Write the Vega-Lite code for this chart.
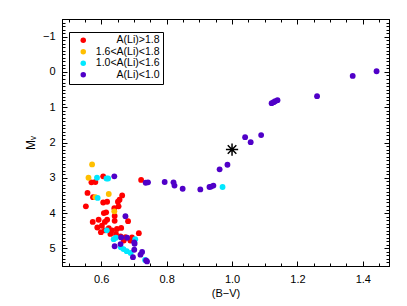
{
  "$schema": "https://vega.github.io/schema/vega-lite/v6.json",
  "width": 327,
  "height": 247,
  "autosize": {"type": "none"},
  "padding": {"left": 62, "top": 19, "right": 18, "bottom": 40},
  "background": "white",
  "config": {
    "view": {"stroke": "black", "strokeWidth": 1},
    "font": "Liberation Sans",
    "axis": {"domainColor": "black", "tickColor": "black", "labelColor": "black", "titleColor": "black", "labelFont": "Liberation Sans", "titleFont": "Liberation Sans", "labelFontSize": 11, "titleFontSize": 11, "titleFontWeight": "normal", "grid": false}
  },
  "datasets": {
    "stars": [
      {"b": 0.606, "m": 2.96, "g": "A(Li)>1.8"},
      {"b": 0.582, "m": 3.12, "g": "A(Li)>1.8"},
      {"b": 0.570, "m": 3.13, "g": "A(Li)>1.8"},
      {"b": 0.722, "m": 3.06, "g": "A(Li)>1.8"},
      {"b": 0.558, "m": 3.43, "g": "A(Li)>1.8"},
      {"b": 0.575, "m": 3.55, "g": "A(Li)>1.8"},
      {"b": 0.553, "m": 3.81, "g": "A(Li)>1.8"},
      {"b": 0.664, "m": 3.50, "g": "A(Li)>1.8"},
      {"b": 0.656, "m": 3.62, "g": "A(Li)>1.8"},
      {"b": 0.651, "m": 3.68, "g": "A(Li)>1.8"},
      {"b": 0.606, "m": 3.70, "g": "A(Li)>1.8"},
      {"b": 0.618, "m": 3.68, "g": "A(Li)>1.8"},
      {"b": 0.640, "m": 3.86, "g": "A(Li)>1.8"},
      {"b": 0.608, "m": 4.00, "g": "A(Li)>1.8"},
      {"b": 0.615, "m": 3.98, "g": "A(Li)>1.8"},
      {"b": 0.641, "m": 4.08, "g": "A(Li)>1.8"},
      {"b": 0.592, "m": 4.19, "g": "A(Li)>1.8"},
      {"b": 0.574, "m": 4.25, "g": "A(Li)>1.8"},
      {"b": 0.611, "m": 4.25, "g": "A(Li)>1.8"},
      {"b": 0.641, "m": 4.22, "g": "A(Li)>1.8"},
      {"b": 0.682, "m": 4.23, "g": "A(Li)>1.8"},
      {"b": 0.602, "m": 4.36, "g": "A(Li)>1.8"},
      {"b": 0.588, "m": 4.41, "g": "A(Li)>1.8"},
      {"b": 0.623, "m": 4.43, "g": "A(Li)>1.8"},
      {"b": 0.611, "m": 4.49, "g": "A(Li)>1.8"},
      {"b": 0.633, "m": 4.49, "g": "A(Li)>1.8"},
      {"b": 0.648, "m": 4.45, "g": "A(Li)>1.8"},
      {"b": 0.661, "m": 4.42, "g": "A(Li)>1.8"},
      {"b": 0.599, "m": 4.54, "g": "A(Li)>1.8"},
      {"b": 0.628, "m": 4.59, "g": "A(Li)>1.8"},
      {"b": 0.645, "m": 4.59, "g": "A(Li)>1.8"},
      {"b": 0.715, "m": 4.57, "g": "A(Li)>1.8"},
      {"b": 0.659, "m": 4.66, "g": "A(Li)>1.8"},
      {"b": 0.674, "m": 4.68, "g": "A(Li)>1.8"},
      {"b": 0.694, "m": 4.69, "g": "A(Li)>1.8"},
      {"b": 0.689, "m": 4.78, "g": "A(Li)>1.8"},
      {"b": 0.669, "m": 4.78, "g": "A(Li)>1.8"},
      {"b": 0.618, "m": 4.19, "g": "A(Li)>1.8"},
      {"b": 0.653, "m": 3.81, "g": "A(Li)>1.8"},
      {"b": 0.572, "m": 2.62, "g": "1.6<A(Li)<1.8"},
      {"b": 0.561, "m": 3.00, "g": "1.6<A(Li)<1.8"},
      {"b": 0.582, "m": 3.55, "g": "1.6<A(Li)<1.8"},
      {"b": 0.623, "m": 3.46, "g": "1.6<A(Li)<1.8"},
      {"b": 0.640, "m": 3.95, "g": "1.6<A(Li)<1.8"},
      {"b": 0.587, "m": 3.00, "g": "1.0<A(Li)<1.6"},
      {"b": 0.616, "m": 3.02, "g": "1.0<A(Li)<1.6"},
      {"b": 0.621, "m": 3.02, "g": "1.0<A(Li)<1.6"},
      {"b": 0.589, "m": 3.57, "g": "1.0<A(Li)<1.6"},
      {"b": 0.617, "m": 4.49, "g": "1.0<A(Li)<1.6"},
      {"b": 0.638, "m": 4.74, "g": "1.0<A(Li)<1.6"},
      {"b": 0.645, "m": 4.70, "g": "1.0<A(Li)<1.6"},
      {"b": 0.660, "m": 4.97, "g": "1.0<A(Li)<1.6"},
      {"b": 0.668, "m": 5.02, "g": "1.0<A(Li)<1.6"},
      {"b": 0.678, "m": 5.08, "g": "1.0<A(Li)<1.6"},
      {"b": 0.690, "m": 5.13, "g": "1.0<A(Li)<1.6"},
      {"b": 0.704, "m": 4.74, "g": "1.0<A(Li)<1.6"},
      {"b": 0.734, "m": 5.33, "g": "1.0<A(Li)<1.6"},
      {"b": 0.971, "m": 3.26, "g": "1.0<A(Li)<1.6"},
      {"b": 0.640, "m": 2.96, "g": "A(Li)<1.0"},
      {"b": 0.674, "m": 4.09, "g": "A(Li)<1.0"},
      {"b": 0.736, "m": 3.14, "g": "A(Li)<1.0"},
      {"b": 0.743, "m": 3.13, "g": "A(Li)<1.0"},
      {"b": 0.661, "m": 4.69, "g": "A(Li)<1.0"},
      {"b": 0.679, "m": 4.70, "g": "A(Li)<1.0"},
      {"b": 0.641, "m": 4.94, "g": "A(Li)<1.0"},
      {"b": 0.659, "m": 4.88, "g": "A(Li)<1.0"},
      {"b": 0.701, "m": 4.83, "g": "A(Li)<1.0"},
      {"b": 0.702, "m": 4.87, "g": "A(Li)<1.0"},
      {"b": 0.701, "m": 5.04, "g": "A(Li)<1.0"},
      {"b": 0.725, "m": 5.10, "g": "A(Li)<1.0"},
      {"b": 0.720, "m": 5.18, "g": "A(Li)<1.0"},
      {"b": 0.697, "m": 5.25, "g": "A(Li)<1.0"},
      {"b": 0.737, "m": 5.34, "g": "A(Li)<1.0"},
      {"b": 0.740, "m": 5.37, "g": "A(Li)<1.0"},
      {"b": 0.794, "m": 3.12, "g": "A(Li)<1.0"},
      {"b": 0.821, "m": 3.13, "g": "A(Li)<1.0"},
      {"b": 0.824, "m": 3.22, "g": "A(Li)<1.0"},
      {"b": 0.849, "m": 3.31, "g": "A(Li)<1.0"},
      {"b": 0.903, "m": 3.33, "g": "A(Li)<1.0"},
      {"b": 0.931, "m": 3.26, "g": "A(Li)<1.0"},
      {"b": 0.936, "m": 3.25, "g": "A(Li)<1.0"},
      {"b": 0.943, "m": 3.22, "g": "A(Li)<1.0"},
      {"b": 0.962, "m": 2.76, "g": "A(Li)<1.0"},
      {"b": 0.986, "m": 2.63, "g": "A(Li)<1.0"},
      {"b": 1.040, "m": 1.85, "g": "A(Li)<1.0"},
      {"b": 1.057, "m": 1.99, "g": "A(Li)<1.0"},
      {"b": 1.089, "m": 1.79, "g": "A(Li)<1.0"},
      {"b": 1.121, "m": 0.886, "g": "A(Li)<1.0"},
      {"b": 1.127, "m": 0.858, "g": "A(Li)<1.0"},
      {"b": 1.132, "m": 0.83, "g": "A(Li)<1.0"},
      {"b": 1.139, "m": 0.80, "g": "A(Li)<1.0"},
      {"b": 1.260, "m": 0.688, "g": "A(Li)<1.0"},
      {"b": 1.369, "m": 0.113, "g": "A(Li)<1.0"},
      {"b": 1.442, "m": -0.019, "g": "A(Li)<1.0"}
    ],
    "target": [{"b": 1.0, "m": 2.2}]
  },
  "layer": [
    {
      "data": {"name": "stars"},
      "mark": {"type": "point", "filled": true, "shape": "circle", "size": 34, "opacity": 1},
      "encoding": {
        "x": {"field": "b", "type": "quantitative", "scale": {"domain": [0.48, 1.48], "nice": false, "zero": false},
          "axis": {"orient": "bottom", "title": "(B\u2212V)", "titlePadding": 1,
            "values": [0.5,0.55,0.6,0.65,0.7,0.75,0.8,0.85,0.9,0.95,1.0,1.05,1.1,1.15,1.2,1.25,1.3,1.35,1.4,1.45],
            "labelExpr": "abs(datum.value*5-round(datum.value*5))<0.001 ? format(datum.value,'.1f') : ''",
            "tickSize": {"condition": {"test": "abs(datum.value*5-round(datum.value*5))<0.001", "value": -5}, "value": -3},
            "labelPadding": 12, "labelFlush": false, "labelOverlap": false}},
        "y": {"field": "m", "type": "quantitative", "scale": {"domain": [5.5, -1.5], "nice": false, "zero": false},
          "axis": {"orient": "left", "title": "M\u1d65", "titlePadding": 5, "titleFontSize": 12,
            "values": [-1.5,-1.4,-1.3,-1.2,-1.1,-1,-0.9,-0.8,-0.7,-0.6,-0.5,-0.4,-0.3,-0.2,-0.1,0,0.1,0.2,0.3,0.4,0.5,0.6,0.7,0.8,0.9,1,1.1,1.2,1.3,1.4,1.5,1.6,1.7,1.8,1.9,2,2.1,2.2,2.3,2.4,2.5,2.6,2.7,2.8,2.9,3,3.1,3.2,3.3,3.4,3.5,3.6,3.7,3.8,3.9,4,4.1,4.2,4.3,4.4,4.5,4.6,4.7,4.8,4.9,5,5.1,5.2,5.3,5.4,5.5],
            "labelExpr": "abs(datum.value-round(datum.value))<0.001 ? format(datum.value,'d') : ''",
            "tickSize": {"condition": {"test": "abs(datum.value-round(datum.value))<0.001", "value": -5}, "value": -3},
            "labelPadding": 12, "labelFlush": false, "labelOverlap": false}},
        "color": {"field": "g", "type": "nominal",
          "scale": {"domain": ["A(Li)>1.8", "1.6<A(Li)<1.8", "1.0<A(Li)<1.6", "A(Li)<1.0"], "range": ["#ff0000", "#ffbf00", "#00e8ff", "#5000c8"]},
          "legend": {"title": null, "orient": "none", "legendX": 7, "legendY": 13, "strokeColor": "black", "fillColor": "white", "padding": 3, "symbolType": "circle", "symbolSize": 30, "symbolOffset": 6, "labelFontSize": 10.5, "labelFont": "Liberation Sans", "labelColor": "black", "rowPadding": 0.5, "labelAlign": "right", "labelOffset": 71}}
      }
    },
    {
      "data": {"name": "target"},
      "mark": {"type": "point", "filled": false, "shape": "M-1,0L1,0M0,-1L0,1M-0.7,-0.7L0.7,0.7M-0.7,0.7L0.7,-0.7", "size": 150, "stroke": "black", "strokeWidth": 1.5, "opacity": 1},
      "encoding": {
        "x": {"field": "b", "type": "quantitative",
          "axis": {"orient": "top", "title": null, "labels": false,
            "values": [0.5,0.55,0.6,0.65,0.7,0.75,0.8,0.85,0.9,0.95,1.0,1.05,1.1,1.15,1.2,1.25,1.3,1.35,1.4,1.45],
            "tickSize": {"condition": {"test": "abs(datum.value*5-round(datum.value*5))<0.001", "value": -5}, "value": -3}}},
        "y": {"field": "m", "type": "quantitative",
          "axis": {"orient": "right", "title": null, "labels": false,
            "values": [-1.5,-1.4,-1.3,-1.2,-1.1,-1,-0.9,-0.8,-0.7,-0.6,-0.5,-0.4,-0.3,-0.2,-0.1,0,0.1,0.2,0.3,0.4,0.5,0.6,0.7,0.8,0.9,1,1.1,1.2,1.3,1.4,1.5,1.6,1.7,1.8,1.9,2,2.1,2.2,2.3,2.4,2.5,2.6,2.7,2.8,2.9,3,3.1,3.2,3.3,3.4,3.5,3.6,3.7,3.8,3.9,4,4.1,4.2,4.3,4.4,4.5,4.6,4.7,4.8,4.9,5,5.1,5.2,5.3,5.4,5.5],
            "tickSize": {"condition": {"test": "abs(datum.value-round(datum.value))<0.001", "value": -5}, "value": -3}}}
      }
    }
  ],
  "resolve": {"axis": {"x": "independent", "y": "independent"}}
}
